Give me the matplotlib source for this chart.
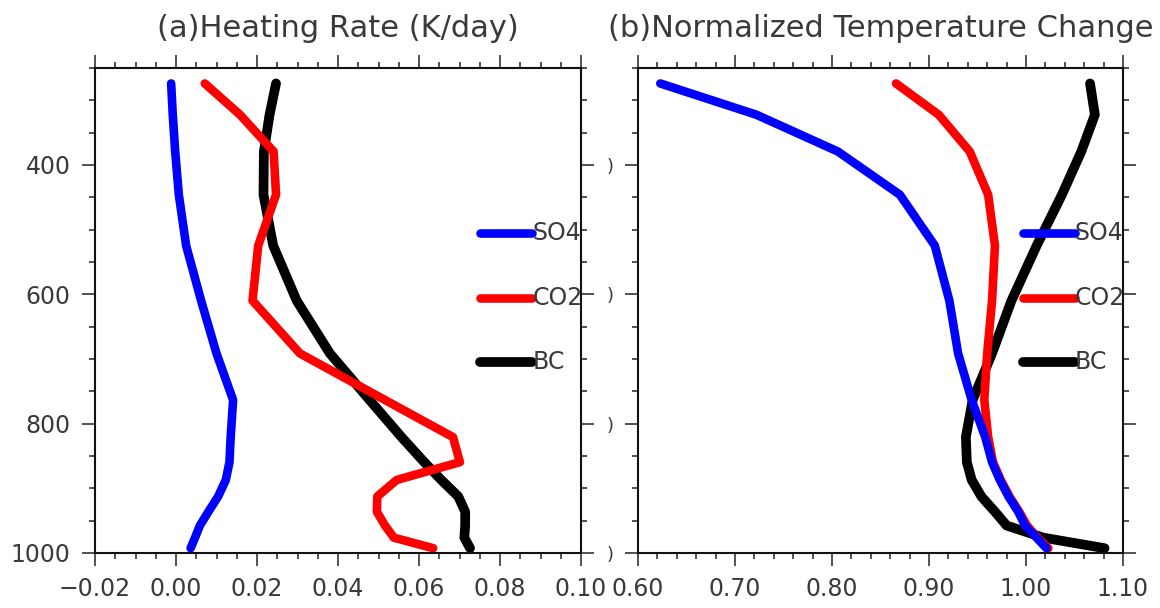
import numpy as np
import matplotlib
matplotlib.use("Agg")
import matplotlib.pyplot as plt
from matplotlib.ticker import MultipleLocator

# model levels (hPa)
lev = [273.91, 322.24, 379.10, 445.99, 524.69, 609.78, 691.39, 763.40,
       820.86, 859.53, 887.02, 912.64, 936.20, 957.49, 976.33, 992.56]

# (a) heating rate, K/day
hr_so4 = [-0.0012, -0.0008, -0.0002, 0.0007, 0.0025, 0.0062, 0.0100, 0.0141,
          0.0135, 0.0132, 0.0123, 0.0104, 0.0080, 0.0059, 0.0047, 0.0036]
hr_co2 = [0.0071, 0.0158, 0.0241, 0.0247, 0.0203, 0.0189, 0.0306, 0.0516,
          0.0684, 0.0701, 0.0545, 0.0497, 0.0496, 0.0516, 0.0538, 0.0635]
hr_bc = [0.0247, 0.0231, 0.0217, 0.0216, 0.0240, 0.0298, 0.0380, 0.0478,
         0.0557, 0.0613, 0.0655, 0.0697, 0.0714, 0.0714, 0.0712, 0.0726]

# (b) normalized temperature change
dt_so4 = [0.623, 0.722, 0.806, 0.870, 0.906, 0.921, 0.930, 0.944,
          0.958, 0.965, 0.973, 0.982, 0.992, 0.999, 1.011, 1.021]
dt_co2 = [0.866, 0.910, 0.942, 0.961, 0.968, 0.965, 0.960, 0.957,
          0.961, 0.966, 0.974, 0.983, 0.993, 1.001, 1.012, 1.023]
dt_bc = [1.066, 1.071, 1.057, 1.037, 1.011, 0.985, 0.965, 0.945,
         0.938, 0.939, 0.944, 0.954, 0.968, 0.980, 1.018, 1.081]

names = ["SO4", "CO2", "BC"]
colors = ["blue", "red", "black"]
widths = [6.2, 6.2, 7.0]

plt.rcParams['font.family'] = ['DejaVu Sans']

fig = plt.figure(figsize=(11.6, 6.08), dpi=100)
ax1 = fig.add_axes([95/1160, 55/608, 486/1160, 485/608])
ax2 = fig.add_axes([638/1160, 55/608, 485/1160, 485/608])


def style_axis(ax, xlim, xmaj, xmin):
    ax.set_ylim(1000, 250)
    ax.set_xlim(*xlim)
    ax.yaxis.set_major_locator(MultipleLocator(200))
    ax.yaxis.set_minor_locator(MultipleLocator(50))
    ax.xaxis.set_major_locator(MultipleLocator(xmaj))
    ax.xaxis.set_minor_locator(MultipleLocator(xmin))
    ax.tick_params(which='both', direction='out', top=True, right=True,
                   color='#222222', width=1.1, labelsize=17,
                   labelcolor='#3a3a3a')
    ax.tick_params(which='major', length=9.5, pad=8)
    ax.tick_params(which='minor', length=4.5)
    for sp in ax.spines.values():
        sp.set_linewidth(1.5)
        sp.set_color('#111111')


def fmt(v):
    return f"{v:.2f}".replace('-', '\u2212')


def add_legend(ax, lines):
    ys = [0.66, 0.526, 0.394]
    for ln, y, name in zip(lines, ys, names):
        ax.plot([0.793, 0.90], [y, y], transform=ax.transAxes,
                color=ln.get_color(), lw=ln.get_linewidth(),
                solid_capstyle='round')
        ax.text(0.9, y, name, transform=ax.transAxes, va='center',
                ha='left', fontsize=17, color='#3a3a3a')


def draw(ax, series):
    # black first, blue on top
    lines = [None] * 3
    for i in [2, 1, 0]:
        ln, = ax.plot(series[i], lev, color=colors[i], lw=widths[i],
                      solid_capstyle='round', solid_joinstyle='round')
        lines[i] = ln
    add_legend(ax, lines)


# panel (a)
style_axis(ax1, (-0.02, 0.10), 0.02, 0.005)
xt = np.arange(-0.02, 0.1001, 0.02)
ax1.set_xticks(xt)
ax1.set_xticklabels([fmt(v) for v in xt])
ax1.set_yticks([400, 600, 800, 1000])
ax1.set_yticklabels(['400', '600', '800', '1000'])
draw(ax1, [hr_so4, hr_co2, hr_bc])
ax1.set_title('(a)Heating Rate (K/day)', fontsize=22, color='#3a3a3a',
              pad=22)

# panel (b)
style_axis(ax2, (0.60, 1.10), 0.10, 0.02)
xt = np.arange(0.6, 1.1001, 0.1)
ax2.set_xticks(xt)
ax2.set_xticklabels([fmt(v) for v in xt])
ax2.set_yticks([400, 600, 800, 1000])
ax2.set_yticklabels([')', ')', ')', ')'], fontsize=13)
draw(ax2, [dt_so4, dt_co2, dt_bc])
ax2.set_title('(b)Normalized Temperature Change', fontsize=22,
              color='#3a3a3a', pad=22)

fig.savefig('out.png', dpi=100)
